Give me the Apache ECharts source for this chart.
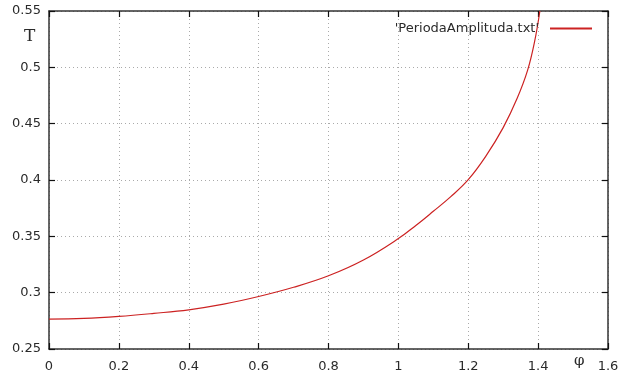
<!DOCTYPE html>
<html>
<head>
<meta charset="utf-8">
<script src="https://cdn.jsdelivr.net/npm/echarts@6/dist/echarts.min.js"></script>
<style>
  html, body { margin: 0; padding: 0; background: #fff; }
  #chart { width: 630px; height: 383px; }
</style>
</head>
<body>
<div id="chart"></div>
<script>
// Period T of the pendulum against amplitude φ (radians)
const phi = [0, 0.1, 0.2, 0.3, 0.4, 0.5, 0.6, 0.7, 0.8, 0.9, 1.0, 1.05, 1.1, 1.15, 1.2, 1.25, 1.3, 1.34, 1.37, 1.39, 1.405];
const period = [0.2766, 0.2771, 0.2789, 0.2816, 0.2848, 0.2898, 0.2966, 0.3048, 0.3150, 0.3290, 0.3480, 0.3596, 0.3722, 0.3852, 0.4003, 0.4210, 0.4465, 0.4725, 0.4975, 0.5230, 0.5500];
const xTicks = [0, 0.2, 0.4, 0.6, 0.8, 1, 1.2, 1.4, 1.6];
const yTicks = [0.25, 0.3, 0.35, 0.4, 0.45, 0.5, 0.55];
const seriesName = "'PeriodaAmplituda.txt'";

const points = phi.map((x, i) => [x, period[i]]);
const fontFamily = 'DejaVu Sans, Verdana, sans-serif';
const textColor = '#2a2a2a';
const frameColor = '#333';

const fmt = v => String(Math.round(v * 100) / 100);

const chart = echarts.init(document.getElementById('chart'), null, { renderer: 'canvas' });

const baseX = {
  type: 'value',
  min: xTicks[0],
  max: xTicks[xTicks.length - 1],
  interval: 0.2,
  axisLine: { show: true, onZero: false, lineStyle: { color: frameColor, width: 1.5 } },
  axisTick: { show: true, inside: true, length: 6, lineStyle: { color: '#111', width: 1.2 } }
};
const baseY = {
  type: 'value',
  min: yTicks[0],
  max: yTicks[yTicks.length - 1],
  interval: 0.05,
  axisLine: { show: true, onZero: false, lineStyle: { color: frameColor, width: 1.5 } },
  axisTick: { show: true, inside: true, length: 6, lineStyle: { color: '#111', width: 1.2 } }
};

chart.setOption({
  animation: false,
  backgroundColor: '#fff',
  grid: { left: 49, right: 22, top: 11, bottom: 34, containLabel: false },
  xAxis: [
    Object.assign({}, baseX, {
      position: 'bottom',
      axisLabel: { show: true, margin: 11, color: textColor, fontFamily, fontSize: 13, formatter: fmt },
      splitLine: { show: true, lineStyle: { color: '#aaa', type: [1, 3], width: 1 } }
    }),
    Object.assign({}, baseX, {
      position: 'top',
      axisLabel: { show: false },
      splitLine: { show: false }
    })
  ],
  yAxis: [
    Object.assign({}, baseY, {
      position: 'left',
      axisLabel: { show: true, margin: 8, color: textColor, fontFamily, fontSize: 13, formatter: fmt },
      splitLine: { show: true, lineStyle: { color: '#aaa', type: [1, 3], width: 1 } }
    }),
    Object.assign({}, baseY, {
      position: 'right',
      axisLabel: { show: false },
      splitLine: { show: false }
    })
  ],
  legend: {
    show: true,
    right: 33,
    top: 17,
    align: 'right',
    itemWidth: 42,
    itemHeight: 2,
    itemGap: 0,
    icon: 'rect',
    textStyle: { color: textColor, fontFamily, fontSize: 13, padding: [0, 6, 0, 0] },
    data: [{ name: seriesName }]
  },
  series: [{
    name: seriesName,
    type: 'line',
    xAxisIndex: 0,
    yAxisIndex: 0,
    data: points,
    showSymbol: false,
    smooth: 0.4,
    clip: true,
    lineStyle: { color: '#cc2222', width: 1.2 },
    itemStyle: { color: '#cc2222' }
  }],
  graphic: [
    { type: 'text', left: 24, top: 28, style: { text: 'T', fill: textColor, font: '17px "DejaVu Serif", "Liberation Serif", serif' } },
    { type: 'text', left: 574, top: 354, style: { text: 'φ', fill: textColor, font: '15px "DejaVu Serif", "Liberation Serif", serif' } }
  ]
});
</script>
</body>
</html>
